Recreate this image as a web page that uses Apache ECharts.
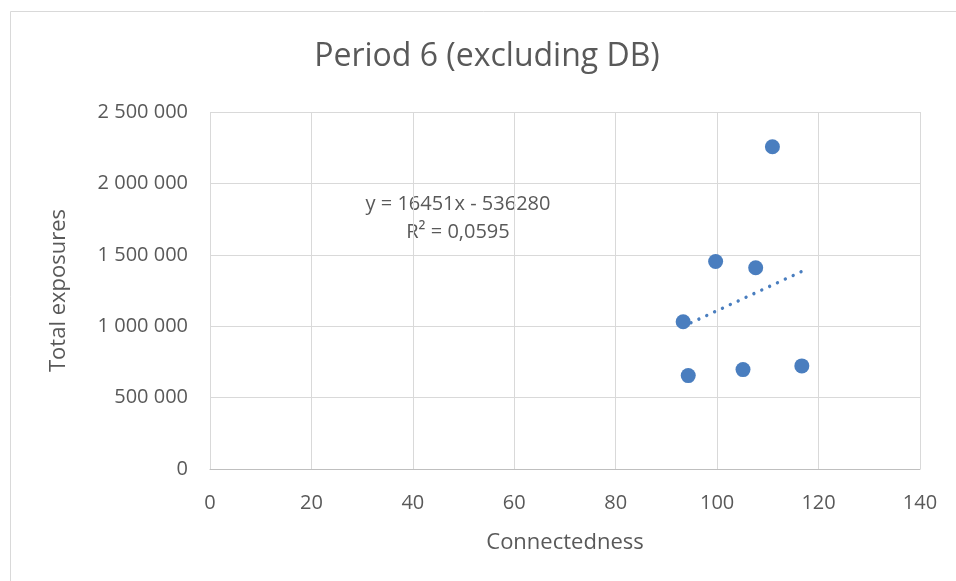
<!DOCTYPE html>
<html>
<head>
<meta charset="utf-8">
<script src="https://cdn.jsdelivr.net/npm/echarts@6/dist/echarts.min.js"></script>
<style>
  html, body { margin: 0; padding: 0; background: #ffffff; }
  #chart { width: 956px; height: 581px; }
</style>
</head>
<body>
<div id="chart"></div>
<script>
// Connectedness vs. total exposures, period 6 (DB excluded)
const connectedness = [110.9, 99.7, 107.6, 93.3, 94.3, 105.1, 116.7];
const exposures = [2257000, 1453000, 1409000, 1031000, 654000, 696000, 722000];

// Linear trend reported for this period
const trendSlope = 16451;
const trendIntercept = -536280;
const trendLabel = ['y = 16451x - 536280', 'R² = 0,0595'];

const xTicks = { min: 0, max: 140, step: 20 };
const yTicks = { min: 0, max: 2500000, step: 500000 };

const points = connectedness.map((x, i) => [x, exposures[i]]);
const xLo = Math.min(...connectedness);
const xHi = Math.max(...connectedness);
const trend = [xLo, xHi].map(x => [x, trendSlope * x + trendIntercept]);

const FONT = '"Open Sans", sans-serif';
const TEXT = '#595959';
const GRID = '#d9d9d9';
const BLUE = '#4a7ebf';

const fmt = v => String(Math.round(v)).replace(/\B(?=(\d{3})+(?!\d))/g, ' ');

const chart = echarts.init(document.getElementById('chart'), null, { renderer: 'canvas' });
chart.setOption({
  backgroundColor: '#ffffff',
  animation: false,
  graphic: [
    {
      type: 'rect',
      shape: { x: 10.5, y: 11.5, width: 1000, height: 1000 },
      style: { fill: 'none', stroke: GRID, lineWidth: 1 },
      silent: true, z: -1
    },
    {
      type: 'text',
      x: 487, y: 57,
      style: {
        text: 'Period 6 (excluding DB)',
        align: 'center', verticalAlign: 'middle',
        fontFamily: FONT, fontSize: 32, fill: TEXT
      }
    },
    {
      type: 'text',
      x: 458, y: 218,
      style: {
        text: trendLabel.join('\n'),
        align: 'center', verticalAlign: 'middle',
        fontFamily: FONT, fontSize: 20, lineHeight: 28, fill: TEXT
      }
    }
  ],
  grid: { left: 210, right: 36, top: 112, bottom: 112, containLabel: false },
  xAxis: {
    type: 'value',
    min: xTicks.min, max: xTicks.max, interval: xTicks.step,
    name: 'Connectedness',
    nameLocation: 'middle',
    nameGap: 63,
    nameTextStyle: { fontFamily: FONT, fontSize: 22, color: TEXT },
    axisLine: { show: true, lineStyle: { color: '#bfbfbf', width: 1 } },
    axisTick: { show: false },
    axisLabel: { fontFamily: FONT, fontSize: 20, color: TEXT, margin: 24 },
    splitLine: { show: true, lineStyle: { color: GRID, width: 1 } }
  },
  yAxis: {
    type: 'value',
    min: yTicks.min, max: yTicks.max, interval: yTicks.step,
    name: 'Total exposures',
    nameLocation: 'middle',
    nameGap: 140,
    nameTextStyle: { fontFamily: FONT, fontSize: 22, color: TEXT },
    axisLine: { show: false },
    axisTick: { show: false },
    axisLabel: { fontFamily: FONT, fontSize: 20, color: TEXT, margin: 22, formatter: fmt },
    splitLine: { show: true, lineStyle: { color: GRID, width: 1 } }
  },
  series: [
    {
      name: 'Trend',
      type: 'line',
      data: trend,
      symbol: 'none',
      silent: true,
      z: 1,
      lineStyle: { color: BLUE, width: 3.4, type: [0.01, 8.65], cap: 'round' }
    },
    {
      name: 'Exposures',
      type: 'scatter',
      data: points,
      symbol: 'circle',
      symbolSize: 15,
      z: 2,
      itemStyle: { color: BLUE, opacity: 1 }
    }
  ]
});
</script>
</body>
</html>
